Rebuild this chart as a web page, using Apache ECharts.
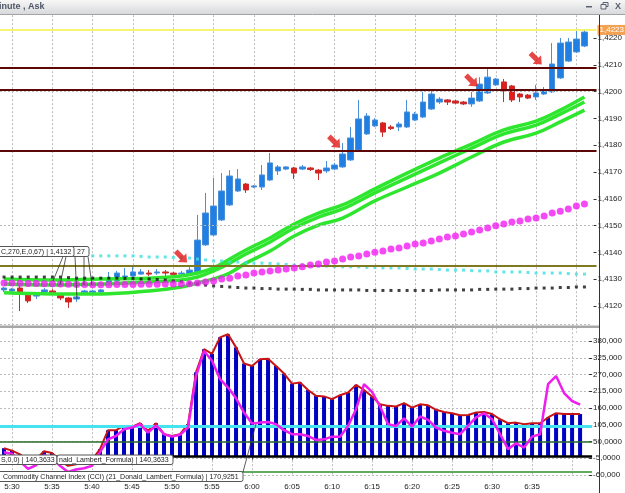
<!DOCTYPE html>
<html>
<head>
<meta charset="utf-8">
<script src="https://cdn.jsdelivr.net/npm/echarts@6/dist/echarts.min.js"></script>
<style>
  html, body { margin: 0; padding: 0; background: #fff; }
  #chart { width: 625px; height: 493px; }
</style>
</head>
<body>
<div id="chart"></div>
<script>
// one category per minute
const times = [
  '5:29', '5:30', '5:31', '5:32', '5:33', '5:34', '5:35', '5:36', '5:37', '5:38', '5:39',
  '5:40', '5:41', '5:42', '5:43', '5:44', '5:45', '5:46', '5:47', '5:48', '5:49',
  '5:50', '5:51', '5:52', '5:53', '5:54', '5:55', '5:56', '5:57', '5:58', '5:59',
  '6:00', '6:01', '6:02', '6:03', '6:04', '6:05', '6:06', '6:07', '6:08', '6:09',
  '6:10', '6:11', '6:12', '6:13', '6:14', '6:15', '6:16', '6:17', '6:18', '6:19',
  '6:20', '6:21', '6:22', '6:23', '6:24', '6:25', '6:26', '6:27', '6:28', '6:29',
  '6:30', '6:31', '6:32', '6:33', '6:34', '6:35', '6:36', '6:37', '6:38', '6:39',
  '6:40', '6:41', '6:42'
]

// [open, close, low, high]
const candles = [
  [1.41260, 1.41267, 1.41252, 1.41271], [1.41256, 1.41263, 1.41249, 1.41267],
  [1.41267, 1.41249, 1.41181, 1.41275], [1.41241, 1.41219, 1.41211, 1.41249],
  [1.41237, 1.41245, 1.41226, 1.41252], [1.41252, 1.41260, 1.41245, 1.41267],
  [1.41256, 1.41249, 1.41241, 1.41263], [1.41241, 1.41230, 1.41222, 1.41245],
  [1.41230, 1.41215, 1.41193, 1.41234], [1.41226, 1.41234, 1.41215, 1.41237],
  [1.41249, 1.41256, 1.41245, 1.41260], [1.41249, 1.41256, 1.41245, 1.41260],
  [1.41252, 1.41260, 1.41245, 1.41263], [1.41286, 1.41304, 1.41278, 1.41327],
  [1.41293, 1.41323, 1.41286, 1.41331], [1.41301, 1.41312, 1.41297, 1.41342],
  [1.41312, 1.41327, 1.41308, 1.41346], [1.41319, 1.41327, 1.41316, 1.41338],
  [1.41323, 1.41319, 1.41312, 1.41334], [1.41323, 1.41327, 1.41316, 1.41338],
  [1.41327, 1.41323, 1.41312, 1.41334], [1.41323, 1.41318, 1.41316, 1.41327],
  [1.41319, 1.41323, 1.41316, 1.41331], [1.41319, 1.41334, 1.41316, 1.41349],
  [1.41327, 1.41446, 1.41323, 1.41540], [1.41428, 1.41547, 1.41424, 1.41622],
  [1.41465, 1.41573, 1.41461, 1.41678], [1.41521, 1.41629, 1.41517, 1.41696],
  [1.41577, 1.41685, 1.41573, 1.41707], [1.41629, 1.41674, 1.41625, 1.41711],
  [1.41655, 1.41633, 1.41622, 1.41659], [1.41644, 1.41648, 1.41640, 1.41651],
  [1.41644, 1.41689, 1.41633, 1.41726], [1.41670, 1.41734, 1.41666, 1.41771],
  [1.41704, 1.41719, 1.41689, 1.41726], [1.41711, 1.41719, 1.41707, 1.41722],
  [1.41715, 1.41696, 1.41674, 1.41719], [1.41711, 1.41719, 1.41707, 1.41726],
  [1.41715, 1.41709, 1.41704, 1.41719], [1.41707, 1.41696, 1.41670, 1.41711],
  [1.41704, 1.41715, 1.41696, 1.41741], [1.41711, 1.41726, 1.41707, 1.41734],
  [1.41719, 1.41767, 1.41715, 1.41808], [1.41745, 1.41827, 1.41741, 1.41868],
  [1.41782, 1.41898, 1.41778, 1.41969], [1.41842, 1.41909, 1.41838, 1.41920],
  [1.41872, 1.41894, 1.41868, 1.41901], [1.41883, 1.41849, 1.41831, 1.41887],
  [1.41868, 1.41862, 1.41857, 1.41875], [1.41868, 1.41879, 1.41853, 1.41887],
  [1.41868, 1.41924, 1.41864, 1.41969], [1.41894, 1.41916, 1.41890, 1.41924],
  [1.41905, 1.41961, 1.41901, 1.41999], [1.41935, 1.41991, 1.41931, 1.42006],
  [1.41961, 1.41972, 1.41954, 1.41980], [1.41969, 1.41961, 1.41950, 1.41972],
  [1.41965, 1.41957, 1.41954, 1.41969], [1.41961, 1.41954, 1.41950, 1.41965],
  [1.41954, 1.41976, 1.41943, 1.41999], [1.41965, 1.42028, 1.41961, 1.42054],
  [1.41995, 1.42054, 1.41991, 1.42084], [1.42025, 1.42047, 1.42021, 1.42051],
  [1.42036, 1.42002, 1.41961, 1.42047], [1.42021, 1.41969, 1.41961, 1.42025],
  [1.41991, 1.41980, 1.41961, 1.41995], [1.41987, 1.41976, 1.41972, 1.41991],
  [1.41980, 1.41995, 1.41969, 1.42025], [1.41991, 1.42006, 1.41987, 1.42017],
  [1.41999, 1.42103, 1.41995, 1.42181], [1.42051, 1.42181, 1.42047, 1.42200],
  [1.42114, 1.42185, 1.42110, 1.42200], [1.42148, 1.42196, 1.42144, 1.42226],
  [1.42170, 1.42222, 1.42166, 1.42230]
]

// moving average envelope (read at a few minutes)
const greenUpper = [
  ['5:29', 1.41301], ['5:35', 1.41297], ['5:41', 1.41301], ['5:47', 1.41304], ['5:51', 1.41312],
  ['5:53', 1.41323], ['5:55', 1.41342], ['5:57', 1.41375], ['5:59', 1.41409], ['6:02', 1.41454],
  ['6:05', 1.41506], ['6:08', 1.41547], ['6:11', 1.41577], ['6:15', 1.41637], ['6:19', 1.41696],
  ['6:23', 1.41752], ['6:27', 1.41804], ['6:31', 1.41857], ['6:35', 1.41890], ['6:38', 1.41931],
  ['6:41', 1.41980]
]
const greenMiddle = [
  ['5:29', 1.41282], ['5:35', 1.41278], ['5:41', 1.41282], ['5:47', 1.41290], ['5:51', 1.41297],
  ['5:53', 1.41308], ['5:55', 1.41331], ['5:57', 1.41360], ['5:59', 1.41394], ['6:02', 1.41439],
  ['6:05', 1.41491], ['6:08', 1.41532], ['6:11', 1.41562], ['6:15', 1.41622], ['6:19', 1.41678],
  ['6:23', 1.41734], ['6:27', 1.41789], ['6:31', 1.41842], ['6:35', 1.41875], ['6:38', 1.41916],
  ['6:41', 1.41961]
]
const greenLower = [
  ['5:29', 1.41249], ['5:35', 1.41245], ['5:41', 1.41245], ['5:47', 1.41256], ['5:51', 1.41271],
  ['5:53', 1.41286], ['5:55', 1.41301], ['5:57', 1.41323], ['5:59', 1.41360], ['6:02', 1.41405],
  ['6:05', 1.41461], ['6:08', 1.41502], ['6:11', 1.41528], ['6:15', 1.41592], ['6:19', 1.41644],
  ['6:23', 1.41696], ['6:27', 1.41756], ['6:31', 1.41812], ['6:35', 1.41845], ['6:38', 1.41887],
  ['6:41', 1.41931]
]

// dotted indicators, one value per minute (null = not drawn)
const magentaDots = [
  1.41286, 1.41286, 1.41285, 1.41284, 1.41284, 1.41283, 1.41283, 1.41282, 1.41281, 1.41280,
  1.41280, 1.41279, 1.41279, 1.41279, 1.41280, 1.41280, 1.41280, 1.41281, 1.41281, 1.41281,
  1.41282, 1.41282, 1.41282, 1.41283, 1.41286, 1.41290, 1.41293, 1.41301, 1.41304, 1.41312,
  1.41316, 1.41323, 1.41327, 1.41331, 1.41334, 1.41338, 1.41342, 1.41346, 1.41353, 1.41357,
  1.41364, 1.41368, 1.41375, 1.41383, 1.41387, 1.41394, 1.41401, 1.41405, 1.41413, 1.41416,
  1.41424, 1.41431, 1.41435, 1.41443, 1.41450, 1.41457, 1.41461, 1.41469, 1.41476, 1.41484,
  1.41491, 1.41499, 1.41506, 1.41513, 1.41517, 1.41525, 1.41528, 1.41536, 1.41547, 1.41554,
  1.41562, 1.41573, 1.41581
]
const cyanDots = [
  null, null, null, null, null, null, null, null, null, null, null,
  1.41387, 1.41387, 1.41387, 1.41387, 1.41387, 1.41387, 1.41385, 1.41383, 1.41383, 1.41383,
  1.41381, 1.41379, 1.41379, 1.41375, 1.41372, 1.41368, 1.41368, 1.41364, 1.41364, 1.41362,
  1.41360, 1.41360, 1.41359, 1.41357, 1.41355, 1.41353, 1.41353, 1.41351, 1.41349, 1.41349,
  1.41347, 1.41346, 1.41346, 1.41346, 1.41344, 1.41344, 1.41342, 1.41342, 1.41342, 1.41340,
  1.41338, 1.41338, 1.41338, 1.41336, 1.41334, 1.41334, 1.41334, 1.41332, 1.41331, 1.41331,
  1.41327, 1.41327, 1.41327, 1.41327, 1.41325, 1.41323, 1.41323, 1.41323, 1.41323, 1.41321,
  1.41319, 1.41319
]
const blackDots = [
  1.41308, 1.41308, 1.41308, 1.41308, 1.41308, 1.41308, 1.41308, 1.41308, 1.41306, 1.41304,
  1.41304, 1.41304, 1.41304, 1.41304, 1.41304, 1.41303, 1.41303, 1.41301, 1.41301, 1.41299,
  1.41297, 1.41293, 1.41290, 1.41286, 1.41282, 1.41278, 1.41275, 1.41273, 1.41271, 1.41269,
  1.41267, 1.41267, 1.41265, 1.41265, 1.41263, 1.41263, 1.41263, 1.41262, 1.41262, 1.41260,
  1.41260, 1.41260, 1.41260, 1.41260, 1.41260, 1.41258, 1.41258, 1.41258, 1.41258, 1.41258,
  1.41258, 1.41258, 1.41258, 1.41258, 1.41260, 1.41260, 1.41260, 1.41260, 1.41260, 1.41262,
  1.41262, 1.41263, 1.41263, 1.41263, 1.41265, 1.41265, 1.41267, 1.41267, 1.41267, 1.41269,
  1.41269, 1.41271, 1.41271
]

// horizontal price levels
const askPrice = 1.42230
const resistanceLevels = [1.42088, 1.42006, 1.41778]
const pivotLevel = 1.41349
const priceGridLevels = [1.41500, 1.42000]

// red arrows [minute, price]
const arrowMarks = [['5:51', 1.41383], ['6:10', 1.41812], ['6:27', 1.42040], ['6:35', 1.42122]]

// lower panel: histogram (with red outline) and CCI
const histValues = [
  28, 20, 8, -18, -8, 18, 12, -12, -30, -25, -18, -10, 25,
  87, 87, 101, 98, 110, 85, 110, 74, 68, 74, 107, 277, 353, 338, 392, 402, 359, 306,
  298, 320, 322, 298, 273, 240, 244, 219, 200, 198, 189, 202, 211, 236, 219, 198, 172,
  167, 165, 176, 161, 172, 169, 154, 147, 143, 136, 137, 145, 147, 140, 123, 110, 112,
  107, 110, 110, 129, 143, 140, 140, 140.3633
]
const cciValues = [
  15, 10, -15, -40, -28, 5, -5, -30, -50, -42, -38, -30, 15,
  57, 68, 90, 96, 107, 79, 103, 74, 66, 72, 96, 265, 347, 315, 255, 227, 192, 145,
  109, 112, 114, 107, 87, 74, 74, 68, 55, 57, 66, 66, 101, 156, 238, 213, 165,
  107, 101, 126, 99, 132, 121, 96, 85, 79, 74, 101, 129, 143, 123, 74, 25, 44,
  30, 66, 74, 238, 265, 209, 183, 170.9251
]
const cciLevels = [100, 50, 0, -50]
const cciTickLabels = ['-60,000', '-5,0000', '50,0000', '105,000', '160,000', '215,000', '270,000', '325,000', '380,000']

const FONT = 'Liberation Sans'
const dashed = { type: [2, 2], color: '#bcbcbc', width: 1 }
const minuteOf = t => +t.split(':')[1]
const gridEvery5 = (i, t) => minuteOf(t) % 5 === 0
const labelEvery5 = (i, t) => minuteOf(t) % 5 === 0 && t !== '6:40'
const priceText = v => v.toFixed(4).replace('.', ',')

const chart = echarts.init(document.getElementById('chart'))

chart.setOption({
  animation: false,
  backgroundColor: '#fff',
  textStyle: { fontFamily: FONT },
  grid: [
    { left: 0, right: 25, top: 11.2, bottom: 160.2 },
    { left: 0, right: 25, top: 324.25, bottom: 18 }
  ],
  xAxis: [
    {
      type: 'category', gridIndex: 0, data: times, boundaryGap: true,
      axisLine: { show: false }, axisTick: { show: false }, axisLabel: { show: false },
      splitLine: { show: true, interval: gridEvery5, alignWithLabel: true, lineStyle: dashed }
    },
    {
      type: 'category', gridIndex: 1, data: times, boundaryGap: true, offset: 6,
      axisLine: { show: false },
      axisTick: { show: true, interval: labelEvery5, alignWithLabel: true, length: 3, lineStyle: { color: '#444' } },
      axisLabel: { interval: labelEvery5, fontSize: 8, color: '#222', margin: 2, fontFamily: FONT },
      splitLine: { show: true, interval: gridEvery5, alignWithLabel: true, lineStyle: dashed }
    }
  ],
  yAxis: [
    {
      type: 'value', gridIndex: 0, position: 'right', min: 1.411, max: 1.423, interval: 0.001,
      axisLine: { show: false },
      axisTick: { show: true, inside: true, length: 3, lineStyle: { color: '#333' } },
      axisLabel: {
        formatter: priceText, showMinLabel: false, showMaxLabel: false,
        fontSize: 8, color: '#222', margin: 1, fontFamily: FONT
      },
      splitLine: { show: false }
    },
    {
      type: 'value', gridIndex: 1, position: 'right', min: -60, max: 435, interval: 55,
      axisLine: { show: false },
      axisTick: { show: true, inside: true, length: 3, lineStyle: { color: '#333' } },
      axisLabel: {
        formatter: v => cciTickLabels[Math.round((v + 60) / 55)] || '', showMaxLabel: false,
        fontSize: 8, color: '#222', margin: 1, fontFamily: FONT
      },
      splitLine: { show: true, lineStyle: dashed }
    }
  ],
  series: [
    {
      type: 'candlestick', xAxisIndex: 0, yAxisIndex: 0, data: candles, barWidth: 6, z: 2,
      itemStyle: {
        color: '#1f7fe3', borderColor: '#4a8fd8',
        color0: '#e41b1b', borderColor0: '#c43030', borderWidth: 1
      },
      markLine: {
        symbol: 'none', silent: true, animation: false, precision: 5,
        label: { show: false },
        data: priceGridLevels.map(v => ({ yAxis: v, lineStyle: { color: '#b8b8b8', type: [2, 2], width: 1 } }))
      }
    },
    ...[greenUpper, greenMiddle, greenLower].map(d => ({
      type: 'line', xAxisIndex: 0, yAxisIndex: 0, data: d, smooth: 0.4, symbol: 'none', z: 3,
      lineStyle: { color: '#2fe62f', width: 3.5 }
    })),
    {
      type: 'scatter', xAxisIndex: 0, yAxisIndex: 0, z: 4, symbol: 'rect', symbolSize: 3,
      data: cyanDots.map((v, i) => [i, v]).filter(p => p[1] != null),
      itemStyle: { color: '#3fe0e0' }
    },
    {
      type: 'scatter', xAxisIndex: 0, yAxisIndex: 0, z: 4, symbol: 'rect', symbolSize: 3,
      data: blackDots.map((v, i) => [i, v]),
      itemStyle: { color: '#111' }
    },
    {
      type: 'scatter', xAxisIndex: 0, yAxisIndex: 0, z: 5, symbolSize: 7,
      data: magentaDots.map((v, i) => [i, v]),
      itemStyle: { color: '#f21bf2' },
      markLine: {
        symbol: 'none', silent: true, animation: false, precision: 5,
        label: { show: false },
        data: [
          ...resistanceLevels.map(v => ({ yAxis: v, lineStyle: { color: '#5c0606', type: 'solid', width: 2 } })),
          { yAxis: pivotLevel, lineStyle: { color: '#7f7a22', type: 'solid', width: 2 } },
          {
            yAxis: askPrice, lineStyle: { color: '#f2f240', type: 'solid', width: 1.5 },
            label: {
              show: true, position: 'end', distance: 1, formatter: priceText(askPrice),
              backgroundColor: '#f3a254', color: '#fff', fontSize: 8, fontFamily: FONT, padding: [1, 3, 1, 2]
            }
          }
        ]
      }
    },
    {
      type: 'scatter', xAxisIndex: 0, yAxisIndex: 0, z: 7, data: arrowMarks,
      symbol: 'path://M0,4 L9,4 L9,0 L16,7 L9,14 L9,10 L0,10 Z', symbolSize: [16, 12], symbolRotate: -45,
      itemStyle: { color: '#e21717' }
    },
    // lower panel
    {
      type: 'bar', xAxisIndex: 1, yAxisIndex: 1, data: histValues, barWidth: 4, z: 2,
      itemStyle: { color: '#0000c4' }
    },
    {
      type: 'line', xAxisIndex: 1, yAxisIndex: 1, data: [], z: 3, silent: true,
      markLine: {
        symbol: 'none', silent: true, animation: false, label: { show: false },
        data: [
          { yAxis: cciLevels[0], lineStyle: { color: '#45e3f0', type: 'solid', width: 3 } },
          { yAxis: cciLevels[1], lineStyle: { color: '#2b6a2b', type: 'solid', width: 1.5 } },
          { yAxis: cciLevels[2], lineStyle: { color: '#000', type: 'solid', width: 2.5 } },
          { yAxis: cciLevels[3], lineStyle: { color: '#2e8f2e', type: 'solid', width: 1.5 } }
        ]
      }
    },
    {
      type: 'line', xAxisIndex: 1, yAxisIndex: 1, data: histValues, symbol: 'none', z: 4,
      lineStyle: { color: '#c81414', width: 2 }
    },
    {
      type: 'line', xAxisIndex: 1, yAxisIndex: 1, data: cciValues, symbol: 'none', z: 5,
      lineStyle: { color: '#ee1eee', width: 2.5 }
    }
  ],
  graphic: [
    // window title bar
    {
      type: 'rect', z: 100, shape: { x: 0, y: 0, width: 625, height: 14 },
      style: { fill: new echarts.graphic.LinearGradient(0, 0, 0, 1, [
        { offset: 0, color: '#f7f7f7' }, { offset: 1, color: '#d8d9dc' }
      ]) }
    },
    { type: 'line', z: 100, shape: { x1: 0, y1: 14.5, x2: 625, y2: 14.5 }, style: { stroke: '#a3a3a3', lineWidth: 1 } },
    {
      type: 'text', z: 101, x: -1, y: 7,
      style: { text: 'inute , Ask', font: 'bold 9px "Liberation Sans"', fill: '#4d5566', verticalAlign: 'middle' }
    },
    { type: 'rect', z: 101, shape: { x: 586, y: 6, width: 6, height: 1.5 }, style: { fill: '#5a6070' } },
    { type: 'rect', z: 101, shape: { x: 603, y: 2.5, width: 5, height: 4 }, style: { fill: 'none', stroke: '#5a6070', lineWidth: 1 } },
    { type: 'rect', z: 101, shape: { x: 601, y: 4.5, width: 5, height: 4.5 }, style: { fill: '#eeeeee', stroke: '#5a6070', lineWidth: 1 } },
    {
      type: 'text', z: 101, x: 615, y: 7,
      style: { text: 'X', font: 'bold 9px "Liberation Sans"', fill: '#5a6070', verticalAlign: 'middle' }
    },
    // panel separator and price axis line
    { type: 'rect', z: 90, shape: { x: 0, y: 325.5, width: 600, height: 2.5 }, style: { fill: '#a7a7a7' } },
    { type: 'line', z: 90, shape: { x1: 599.5, y1: 15, x2: 599.5, y2: 493 }, style: { stroke: '#333', lineWidth: 1 } },
    // indicator labels, main panel
    ...[[63, 53, 281], [66, 60, 285], [75, 77, 299], [84, 84, 285], [88, 92, 285]].map(p => ({
      type: 'line', z: 95, shape: { x1: p[0], y1: 256.5, x2: p[1], y2: p[2] }, style: { stroke: '#333', lineWidth: 0.8 }
    })),
    { type: 'rect', z: 96, shape: { x: 60, y: 246.5, width: 29, height: 10, r: 2 }, style: { fill: '#fff', stroke: '#555', lineWidth: 1 } },
    { type: 'text', z: 97, x: 77, y: 251.8, style: { text: '27', font: '7px "Liberation Sans"', fill: '#222', verticalAlign: 'middle' } },
    { type: 'rect', z: 98, shape: { x: -3, y: 246.5, width: 77, height: 10, r: 2 }, style: { fill: '#fff', stroke: '#555', lineWidth: 1 } },
    { type: 'text', z: 99, x: 1, y: 251.8, style: { text: 'C,270,E,0,67) | 1,4132', font: '7px "Liberation Sans"', fill: '#222', verticalAlign: 'middle' } },
    // indicator labels, lower panel
    { type: 'line', z: 95, shape: { x1: 243, y1: 472, x2: 256, y2: 424 }, style: { stroke: '#333', lineWidth: 0.8 } },
    { type: 'rect', z: 96, shape: { x: -3, y: 455, width: 60, height: 9.5, r: 2 }, style: { fill: '#fff', stroke: '#555', lineWidth: 1 } },
    { type: 'text', z: 97, x: 1, y: 460, style: { text: 'S,0,0) | 140,3633', font: '7px "Liberation Sans"', fill: '#222', verticalAlign: 'middle' } },
    { type: 'rect', z: 96, shape: { x: 57, y: 455, width: 116, height: 9.5, r: 2 }, style: { fill: '#fff', stroke: '#555', lineWidth: 1 } },
    { type: 'text', z: 97, x: 59, y: 460, style: { text: 'nald_Lambert_Formula) | 140,3633', font: '7px "Liberation Sans"', fill: '#222', verticalAlign: 'middle' } },
    { type: 'rect', z: 96, shape: { x: -3, y: 471.5, width: 246, height: 10, r: 2 }, style: { fill: '#fff', stroke: '#555', lineWidth: 1 } },
    { type: 'text', z: 97, x: 3, y: 476.8, style: { text: 'Commodity Channel Index (CCI) (21_Donald_Lambert_Formula) | 170,9251', font: '7px "Liberation Sans"', fill: '#222', verticalAlign: 'middle' } }
  ]
})
</script>
</body>
</html>
